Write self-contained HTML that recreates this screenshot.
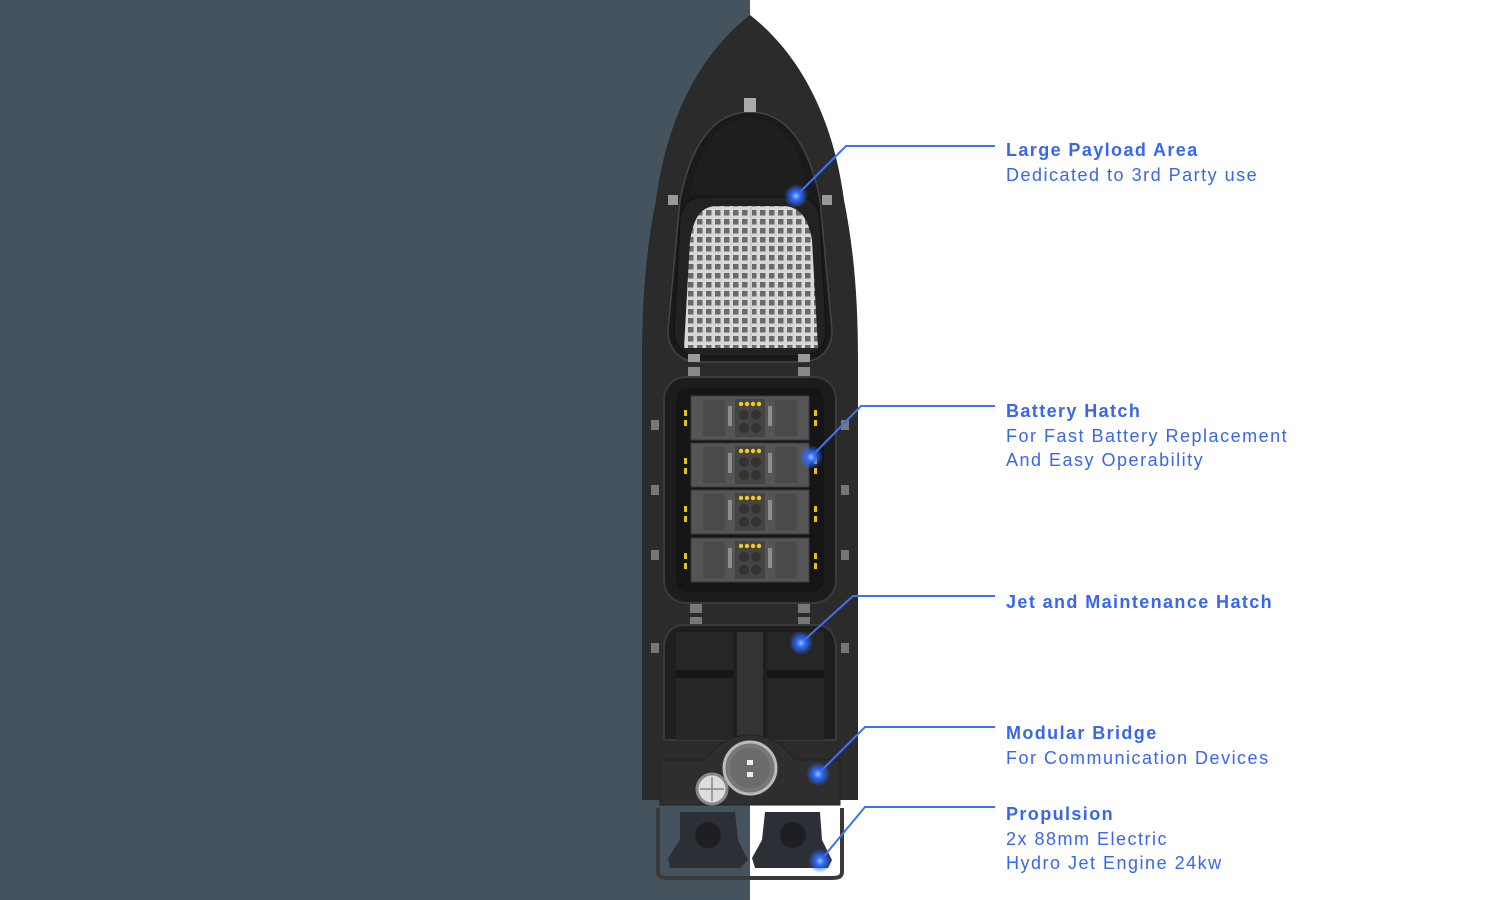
<!DOCTYPE html>
<html><head><meta charset="utf-8"><style>
html,body{margin:0;padding:0}
body{width:1500px;height:900px;position:relative;overflow:hidden;background:#fff;font-family:"Liberation Sans",sans-serif}
.t{position:absolute;left:1006px;color:#3866ee;font-size:18px;line-height:24.5px;letter-spacing:1.5px;white-space:nowrap}
.t b{letter-spacing:1.4px}
</style></head><body>
<svg width="1500" height="900" style="position:absolute;left:0;top:0">
<defs>
<pattern id="grid" x="686" y="208" width="9" height="9" patternUnits="userSpaceOnUse">
<rect width="9" height="9" fill="#d8d8d8"/><rect x="2" y="2" width="5.5" height="5.5" fill="#6a6a6a"/>
</pattern>
<radialGradient id="glow"><stop offset="0" stop-color="#9fc0ff"/><stop offset="0.35" stop-color="#2d6bff"/><stop offset="1" stop-color="#2d6bff" stop-opacity="0"/></radialGradient>
<g id="mod">
<rect x="0" y="0" width="118" height="44" fill="#555"/>
<rect x="0" y="0" width="118" height="44" fill="none" stroke="#3a3a3a"/>
<rect x="12" y="4" width="22" height="36" fill="#4a4a4a"/>
<rect x="84" y="4" width="22" height="36" fill="#4a4a4a"/>
<rect x="44" y="3" width="30" height="38" fill="#444"/>
<circle cx="50" cy="8" r="2.2" fill="#f4cc1a"/><circle cx="56" cy="8" r="2.2" fill="#f4cc1a"/><circle cx="62" cy="8" r="2.2" fill="#f4cc1a"/><circle cx="68" cy="8" r="2.2" fill="#f4cc1a"/>
<circle cx="53" cy="19" r="5" fill="#333"/><circle cx="65" cy="19" r="5" fill="#333"/>
<circle cx="53" cy="32" r="5" fill="#333"/><circle cx="65" cy="32" r="5" fill="#333"/>
<rect x="37" y="10" width="4" height="20" fill="#8a8f95"/><rect x="77" y="10" width="4" height="20" fill="#8a8f95"/>
</g>
</defs>
<rect x="0" y="0" width="750" height="900" fill="#44535e"/>
<path d="M750 15 C705 50 668 110 656 200 C646 250 642 300 642 360 L642 800 L858 800 L858 360 C858 300 854 250 844 200 C832 110 795 50 750 15 Z" fill="#2b2b2b"/>
<path d="M750 112 C710 112 690 150 680 200 L668 330 C668 350 680 362 700 362 L800 362 C820 362 832 350 832 330 L820 200 C810 150 790 112 750 112 Z" fill="#1a1a1a" stroke="#444" stroke-width="1.5"/>
<path d="M750 118 C715 118 700 150 690 195 L810 195 C800 150 785 118 750 118Z" fill="#1e1e1e"/>
<path d="M705 197 L795 197 C812 197 818 205 820 220 L826 330 C826 348 815 356 800 356 L700 356 C685 356 674 348 674 330 L680 220 C682 205 688 197 705 197Z" fill="#222" stroke="#111"/>
<path d="M718 206 L782 206 C800 206 808 218 812 240 L818 348 L684 348 L690 240 C694 218 700 206 718 206Z" fill="url(#grid)"/>
<line x1="751" y1="206" x2="751" y2="348" stroke="#ccc" stroke-width="2"/>
<rect x="744" y="98" width="12" height="14" fill="#aaa"/>
<rect x="668" y="195" width="10" height="10" fill="#999"/><rect x="822" y="195" width="10" height="10" fill="#999"/>
<rect x="688" y="354" width="12" height="8" fill="#999"/><rect x="798" y="354" width="12" height="8" fill="#999"/>
<rect x="688" y="367" width="12" height="9" fill="#888"/><rect x="798" y="367" width="12" height="9" fill="#888"/>
<rect x="664" y="377" width="172" height="226" rx="22" fill="#1c1c1c" stroke="#3a3a3a" stroke-width="2"/>
<rect x="676" y="388" width="148" height="204" rx="12" fill="#151515"/>
<use href="#mod" x="691" y="396"/><use href="#mod" x="691" y="443"/><use href="#mod" x="691" y="490"/><use href="#mod" x="691" y="538"/>
<g fill="#e8c010">
<rect x="684" y="410" width="3" height="6"/><rect x="684" y="420" width="3" height="6"/><rect x="814" y="410" width="3" height="6"/><rect x="814" y="420" width="3" height="6"/>
<rect x="684" y="458" width="3" height="6"/><rect x="684" y="468" width="3" height="6"/><rect x="814" y="458" width="3" height="6"/><rect x="814" y="468" width="3" height="6"/>
<rect x="684" y="506" width="3" height="6"/><rect x="684" y="516" width="3" height="6"/><rect x="814" y="506" width="3" height="6"/><rect x="814" y="516" width="3" height="6"/>
<rect x="684" y="553" width="3" height="6"/><rect x="684" y="563" width="3" height="6"/><rect x="814" y="553" width="3" height="6"/><rect x="814" y="563" width="3" height="6"/>
</g>
<g fill="#777">
<rect x="651" y="420" width="8" height="10"/><rect x="651" y="485" width="8" height="10"/><rect x="651" y="550" width="8" height="10"/><rect x="651" y="643" width="8" height="10"/>
<rect x="841" y="420" width="8" height="10"/><rect x="841" y="485" width="8" height="10"/><rect x="841" y="550" width="8" height="10"/><rect x="841" y="643" width="8" height="10"/>
<rect x="690" y="604" width="12" height="9"/><rect x="798" y="604" width="12" height="9"/>
<rect x="690" y="617" width="12" height="8"/><rect x="798" y="617" width="12" height="8"/>
</g>
<path d="M685 625 L815 625 C830 625 836 635 836 650 L836 740 L664 740 L664 650 C664 635 670 625 685 625Z" fill="#1e1e1e" stroke="#3a3a3a" stroke-width="2"/>
<rect x="676" y="632" width="57" height="108" fill="#262626"/>
<rect x="767" y="632" width="57" height="108" fill="#262626"/>
<rect x="676" y="670" width="57" height="8" fill="#161616"/><rect x="767" y="670" width="57" height="8" fill="#161616"/>
<rect x="737" y="632" width="26" height="108" fill="#333"/>
<path d="M660 760 L705 760 C720 740 735 735 750 735 C765 735 780 740 795 760 L840 760 L840 805 L660 805Z" fill="#2e2e2e" stroke="#222"/>
<circle cx="750" cy="768" r="26" fill="#777" stroke="#bbb" stroke-width="3"/>
<circle cx="750" cy="768" r="20" fill="#6b6b6b"/>
<rect x="747" y="760" width="6" height="5" fill="#eee"/><rect x="747" y="772" width="6" height="5" fill="#eee"/>
<circle cx="712" cy="789" r="15" fill="#ddd" stroke="#888" stroke-width="3"/>
<line x1="700" y1="789" x2="724" y2="789" stroke="#888" stroke-width="1.5"/><line x1="712" y1="777" x2="712" y2="801" stroke="#888" stroke-width="1.5"/>
<path d="M658 808 L658 872 C658 877 662 878 668 878 L832 878 C838 878 842 877 842 872 L842 808" fill="none" stroke="#3a3a3a" stroke-width="4"/>
<path d="M680 812 L735 812 L738 840 L748 860 L740 868 L670 868 L668 858 L680 840Z" fill="#2c2f35"/>
<path d="M765 812 L820 812 L822 840 L832 860 L828 868 L755 868 L752 858 L762 840Z" fill="#2c2f35"/>
<circle cx="708" cy="835" r="13" fill="#1d1f23"/><circle cx="793" cy="835" r="13" fill="#1d1f23"/>
<g fill="none" stroke="#3f72f0" stroke-width="2">
<polyline points="796,196 846,146 995,146"/>
<polyline points="811,457 861,406 995,406"/>
<polyline points="801,643 853,596 995,596"/>
<polyline points="818,774 865,727 995,727"/>
<polyline points="820,861 865,807 995,807"/>
</g>
<g>
<circle cx="796" cy="196" r="12" fill="url(#glow)"/>
<circle cx="811" cy="457" r="12" fill="url(#glow)"/>
<circle cx="801" cy="643" r="12" fill="url(#glow)"/>
<circle cx="818" cy="774" r="12" fill="url(#glow)"/>
<circle cx="820" cy="861" r="12" fill="url(#glow)"/>
</g>
</svg>
<div class="t" style="top:138px"><b>Large Payload Area</b><br>Dedicated to 3rd Party use</div>
<div class="t" style="top:399px"><b>Battery Hatch</b><br>For Fast Battery Replacement<br>And Easy Operability</div>
<div class="t" style="top:590px"><b>Jet and Maintenance Hatch</b></div>
<div class="t" style="top:721px"><b>Modular Bridge</b><br>For Communication Devices</div>
<div class="t" style="top:802px"><b>Propulsion</b><br>2x 88mm Electric<br>Hydro Jet Engine 24kw</div>
</body></html>
